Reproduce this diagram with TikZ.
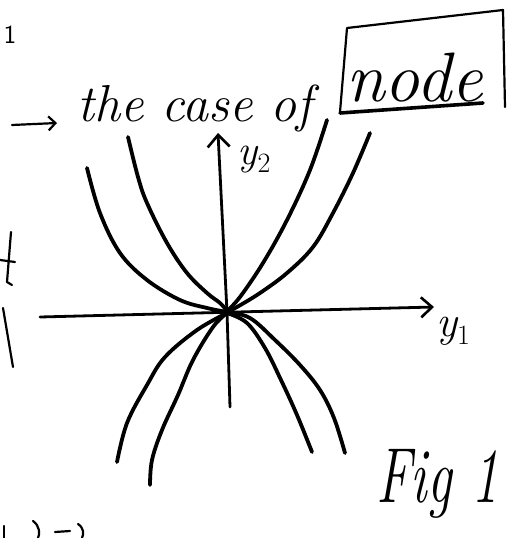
\documentclass[tikz,border=0pt]{standalone}
\usepackage{fontspec}
\usetikzlibrary{arrows.meta}
\newcommand{\subsc}[2]{{\itshape #1}\raisebox{-0.18em}{\fontsize{28}{28}\selectfont #2}}
\begin{document}
\begin{tikzpicture}[x=1pt,y=-1pt,
  ink/.style={line width=3.8pt,line cap=round,line join=round},
  axis/.style={line width=2.8pt,line cap=round},
  thin/.style={line width=2.2pt,line cap=round,line join=round},
  hand/.style={inner sep=0pt,font=\itshape}]
\useasboundingbox (0,0) rectangle (508,538);
\coordinate (O) at (227,312);
% axes
\coordinate (xl) at (40,317);
\coordinate (xr) at (434,307);
\coordinate (yb) at (230,407);
\coordinate (yt) at (218,133);
\draw[axis,-{Straight Barb[length=11pt,width=20pt,line width=2.6pt]}] (xl) -- (xr);
\draw[axis,-{Straight Barb[length=12pt,width=22pt,line width=2.6pt]}] (yb) -- (O) -- (yt);
\node[hand,font=\fontsize{42}{42}\selectfont] (ylab2) at (254,160) {\subsc{y}{2}};
\node[hand,font=\fontsize{44}{44}\selectfont] (ylab1) at (453,331) {\subsc{y}{1}};
% upper curves
\draw[ink] plot[smooth,tension=0.6] coordinates {(87,168) (100,213) (120,253) (147,280) (180,300) (207,308) (227,312)};
\draw[ink] plot[smooth,tension=0.6] coordinates {(128,137) (138,177) (147,203) (167,243) (187,273) (207,293) (220,303) (227,311)};
\draw[ink] plot[smooth,tension=0.6] coordinates {(327,120) (310,170) (287,220) (263,263) (240,297) (227,311)};
\draw[ink] plot[smooth,tension=0.6] coordinates {(370,133) (353,173) (333,213) (313,247) (287,273) (260,293) (237,307) (227,312)};
% lower curves
\draw[ink] plot[smooth,tension=0.6] coordinates {(227,313) (197,330) (165,357) (147,385) (127,423) (117,462)};
\draw[ink] plot[smooth,tension=0.6] coordinates {(227,313) (213,327) (193,360) (178,395) (162,430) (152,460) (150,485)};
\draw[ink] plot[smooth,tension=0.6] coordinates {(227,313) (247,323) (265,348) (281,380) (297,415) (312,452)};
\draw[ink] plot[smooth,tension=0.6] coordinates {(227,312) (250,318) (275,340) (300,365) (320,390) (334,418) (345,453)};
% heading
\node[inner sep=0pt,font=\sffamily\fontsize{13}{13}\selectfont,anchor=base] (one) at (10,43) {\scalebox{2}{1}};
\coordinate (al) at (12,125);
\coordinate (ar) at (57,123);
\draw[thin,-{Straight Barb[length=7pt,width=14pt,line width=2.2pt]}] (al) -- (ar);
\node[hand,anchor=base west,font=\itshape\fontsize{52}{52}\selectfont] (case) at (77,121) {the case of};
\node[hand,anchor=base west,font=\itshape\fontsize{70}{70}\selectfont] (nodew) at (346,101) {node};
\coordinate (b1) at (340,112);
\coordinate (b2) at (347,28);
\coordinate (b3) at (503,10);
\coordinate (b4) at (505,107);
\draw[thin] (b1) -- (b2) -- (b3) -- (b4);
\coordinate (u1) at (340,113);
\coordinate (u2) at (483,103);
\draw[line width=3.6pt,line cap=round] (u1) -- (u2);
% Fig 1
\node[hand,anchor=base west,font=\itshape\fontsize{78}{78}\selectfont,xscale=0.7] (fig) at (376,502) {Fig 1};
% cut-off fragments at left edge
\draw[thin] (11,232) -- (7,282) -- (12,285);
\draw[thin] (0,260) -- (15,262);
\draw[thin] (3,308) -- (13,367);
\draw[thin] (4,526) -- (4,538);
\draw[thin] (33,521) .. controls (40,526) and (40,534) .. (38,538);
\draw[thin] (55,532) -- (70,531);
\draw[thin] (78,524) .. controls (84,528) and (84,534) .. (82,538);
\end{tikzpicture}
\end{document}
